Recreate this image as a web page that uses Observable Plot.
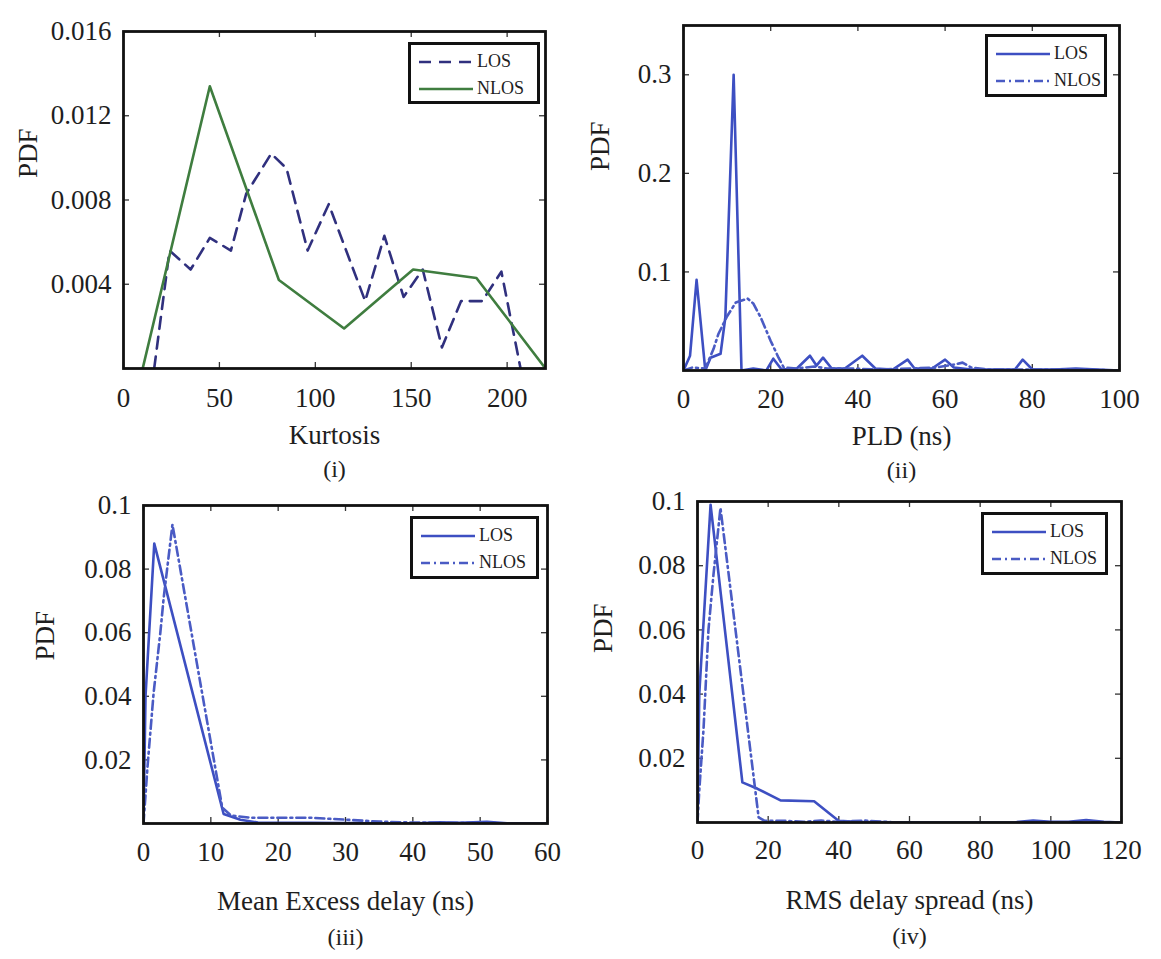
<!DOCTYPE html>
<html><head><meta charset="utf-8">
<script src="https://cdn.jsdelivr.net/npm/d3@7"></script>
<script src="https://cdn.jsdelivr.net/npm/@observablehq/plot@0.6"></script>
<style>
html,body{margin:0;padding:0;background:#fff;}
#root{position:relative;width:1161px;height:959px;overflow:hidden;font-family:"Liberation Serif","Times New Roman",serif;}
.panel{position:absolute;}
.legend{position:absolute;border:3.5px solid #111;background:#fff;box-sizing:border-box;font-size:18px;color:#1e1e1e;padding:3px 0 0 6px;}
.legend .row{display:flex;align-items:center;height:27px;white-space:nowrap;}
.legend svg{margin-right:2px;}
</style></head><body><div id="root"></div>
<script>
// ---------- data ----------
const seriesNames = ["LOS", "NLOS"];

// (i) Kurtosis
const kurtXTicks = [0, 50, 100, 150, 200];
const kurtYTicks = [0.004, 0.008, 0.012, 0.016];
const kurtLos = [[16,0],[24,0.0056],[35,0.0047],[45,0.0062],[56,0.0056],[64,0.0083],[77,0.0102],[85,0.0095],[96,0.0056],[107,0.0078],[126,0.0032],[136,0.0063],[146,0.0034],[156,0.0047],[166,0.001],[176,0.0032],[187,0.0032],[197,0.0046],[207,0]];
const kurtNlos = [[10,0],[45,0.0134],[81,0.0042],[115,0.0019],[151,0.0047],[184,0.0043],[220,0]];

// (ii) PLD
const pldXTicks = [0, 20, 40, 60, 80, 100];
const pldYTicks = [0.1, 0.2, 0.3];
const pldLos = [[0,0],[1.5,0.015],[3,0.092],[5,0],[6.2,0.013],[8.5,0.017],[9.6,0.054],[11.5,0.30],[13.3,0],[16,0.002],[19,0],[20.6,0.012],[22.5,0.001],[26,0.002],[29,0.015],[30.5,0.005],[32,0.013],[34,0.002],[37,0.002],[41,0.015],[44,0.002],[48,0.001],[51.4,0.011],[53,0.002],[57,0.002],[60,0.011],[62,0.003],[66,0.001],[72,0.001],[76,0.001],[77.8,0.011],[80,0.001],[85,0.001],[90,0.002],[95,0.001],[100,0]];
const pldNlos = [[0,0],[2,0.003],[5,0.002],[6.9,0.022],[8,0.037],[10,0.055],[12,0.069],[14.7,0.073],[16,0.068],[17.7,0.054],[20,0.03],[21.8,0.013],[23,0.003],[26,0.002],[30,0.004],[33,0.002],[38,0.002],[45,0.001],[52,0.002],[58,0.003],[62,0.006],[64,0.008],[66,0.003],[70,0.001],[80,0.001],[90,0.001],[100,0]];

// (iii) Mean excess delay
const medXTicks = [0, 10, 20, 30, 40, 50, 60];
const medYTicks = [0.02, 0.04, 0.06, 0.08, 0.1];
const medLos = [[0,0],[0.3,0.04],[1.6,0.088],[3.3,0.074],[11.9,0.003],[14.4,0.0012],[17,0.0003],[25,0.0002],[35,0.0001],[40,0],[44,0.0004],[47,0.0002],[51,0.0005],[54,0.0001],[60,0]];
const medNlos = [[0,0],[0.6,0.018],[1.5,0.041],[2.5,0.06],[3,0.071],[4.3,0.094],[11.7,0.005],[13,0.0025],[16,0.0018],[25,0.0018],[30,0.0012],[35,0.0006],[40,0.0003],[50,0.0002],[55,0]];

// (iv) RMS delay spread
const rmsXTicks = [0, 20, 40, 60, 80, 100, 120];
const rmsYTicks = [0.02, 0.04, 0.06, 0.08, 0.1];
const rmsLos = [[0,0],[0.5,0.04],[3.7,0.099],[12.7,0.0125],[17,0.0105],[23.5,0.0069],[33,0.0066],[40,0.0005],[45,0.0002],[55,0.0001],[70,0],[90,0.0001],[95,0.0006],[100,0.0002],[105,0.0002],[110,0.0008],[115,0.0002],[120,0]];
const rmsNlos = [[0,0],[0.5,0.01],[1.7,0.029],[3.1,0.06],[4.5,0.077],[6.5,0.098],[17.3,0.0016],[19,0.0005],[25,0.0005],[30,0.0002],[35,0.0006],[40,0.0002],[47,0.0006],[55,0.0001],[60,0]];

// ---------- styles / layout ----------
const navy = "#30307e", green = "#3f7d3f", blue = "#3d4fc2", blue2 = "#4a5bc4";
const dashStyle = "12,8", dashDot = "9,4,2,4";

const panels = [
  {left:0, top:0, m:[31,35,112,123], xDomain:[0,220], yDomain:[0,0.016], xTicks:kurtXTicks, yTicks:kurtYTicks,
   xLabel:"Kurtosis", caption:"(i)", labDy:75, capDy:108, capSize:24, pad:19, pdfDx:-95, pdfDy:-22,
   series:[{data:kurtLos, stroke:navy, dash:dashStyle},{data:kurtNlos, stroke:green, dash:null}],
   legend:{left:408, top:42, width:132, height:62}},
  {left:580, top:0, m:[25,41,110,103], xDomain:[0,100], yDomain:[0,0.35], xTicks:pldXTicks, yTicks:pldYTicks,
   xLabel:"PLD (ns)", caption:"(ii)", labDy:74, capDy:107, capSize:24, pad:18, pdfDx:-83, pdfDy:-27,
   series:[{data:pldLos, stroke:blue, dash:null},{data:pldNlos, stroke:blue2, dash:dashDot}],
   legend:{left:985, top:34, width:122, height:63}},
  {left:0, top:480, m:[25,33,137,143], xDomain:[0,60], yDomain:[0,0.1], xTicks:medXTicks, yTicks:medYTicks,
   xLabel:"Mean Excess delay (ns)", caption:"(iii)", labDy:86, capDy:121, capSize:24, pad:18, pdfDx:-98, pdfDy:-4,
   series:[{data:medLos, stroke:blue, dash:null},{data:medNlos, stroke:blue2, dash:dashDot}],
   legend:{left:410, top:516, width:129, height:63}},
  {left:580, top:480, m:[21,39,138,117], xDomain:[0,120], yDomain:[0,0.1], xTicks:rmsXTicks, yTicks:rmsYTicks,
   xLabel:"RMS delay spread (ns)", caption:"(iv)", labDy:86, capDy:121, capSize:24, pad:17, pdfDx:-94, pdfDy:-9,
   series:[{data:rmsLos, stroke:blue, dash:null},{data:rmsNlos, stroke:blue2, dash:dashDot}],
   legend:{left:981, top:512, width:127, height:63}}
];

const root = document.getElementById("root");
const W = 580, H = 480;

for (const p of panels) {
  const [mt, mr, mb, ml] = p.m;
  const [x0, x1] = p.xDomain, [y0, y1] = p.yDomain;
  const tickPx = 6;
  const ty = tickPx / (H - mt - mb) * (y1 - y0);
  const tx = tickPx / (W - ml - mr) * (x1 - x0);
  const allY = [y0, ...p.yTicks];
  const marks = [
    Plot.ruleX(p.xTicks, {x: d => d, y1: y0, y2: y0 + ty, stroke: "#333", strokeWidth: 1.3}),
    Plot.ruleX(p.xTicks, {x: d => d, y1: y1, y2: y1 - ty, stroke: "#333", strokeWidth: 1.3}),
    Plot.ruleY(allY, {y: d => d, x1: x0, x2: x0 + tx, stroke: "#333", strokeWidth: 1.3}),
    Plot.ruleY(allY, {y: d => d, x1: x1, x2: x1 - tx, stroke: "#333", strokeWidth: 1.3}),
    ...p.series.map(s => Plot.line(s.data, {x: d => d[0], y: d => d[1], stroke: s.stroke, strokeWidth: 2.6,
      strokeDasharray: s.dash, clip: true, strokeLinejoin: "round"})),
    Plot.frame({stroke: "#111", strokeWidth: 2.8}),
    Plot.axisX({ticks: p.xTicks, tickSize: 0, tickPadding: p.pad, fontSize: 27, label: null, tickFormat: d => String(d)}),
    Plot.axisY({ticks: p.yTicks, tickSize: 0, tickPadding: 12, fontSize: 27, label: null, tickFormat: d => String(d)}),
    Plot.text([p.xLabel], {text: d => d, frameAnchor: "bottom", dy: p.labDy, fontSize: 27, fill: "#1e1e1e"}),
    Plot.text([p.caption], {text: d => d, frameAnchor: "bottom", dy: p.capDy, fontSize: p.capSize, fill: "#1e1e1e"}),
    Plot.text(["PDF"], {text: d => d, frameAnchor: "left", dx: p.pdfDx, dy: p.pdfDy, rotate: -90, fontSize: 27, fill: "#1e1e1e"})
  ];
  const chart = Plot.plot({
    width: W, height: H,
    marginTop: mt, marginRight: mr, marginBottom: mb, marginLeft: ml,
    x: {domain: p.xDomain},
    y: {domain: p.yDomain},
    style: {fontFamily: '"Liberation Serif","Times New Roman",serif', color: "#1e1e1e", background: "transparent", overflow: "visible"},
    marks
  });
  const wrap = document.createElement("div");
  wrap.className = "panel";
  wrap.style.left = p.left + "px";
  wrap.style.top = p.top + "px";
  wrap.appendChild(chart);
  root.appendChild(wrap);

  // legend box
  const lg = document.createElement("div");
  lg.className = "legend";
  Object.assign(lg.style, {left: p.legend.left + "px", top: p.legend.top + "px", width: p.legend.width + "px", height: p.legend.height + "px"});
  p.series.forEach((s, i) => {
    const row = document.createElement("div");
    row.className = "row";
    row.innerHTML = `<svg width="58" height="10"><line x1="2" y1="5" x2="56" y2="5" stroke="${s.stroke}" stroke-width="2.6" ${s.dash ? `stroke-dasharray="${s.dash}"` : ""}/></svg><span>${seriesNames[i]}</span>`;
    lg.appendChild(row);
  });
  root.appendChild(lg);
}
</script></body></html>
